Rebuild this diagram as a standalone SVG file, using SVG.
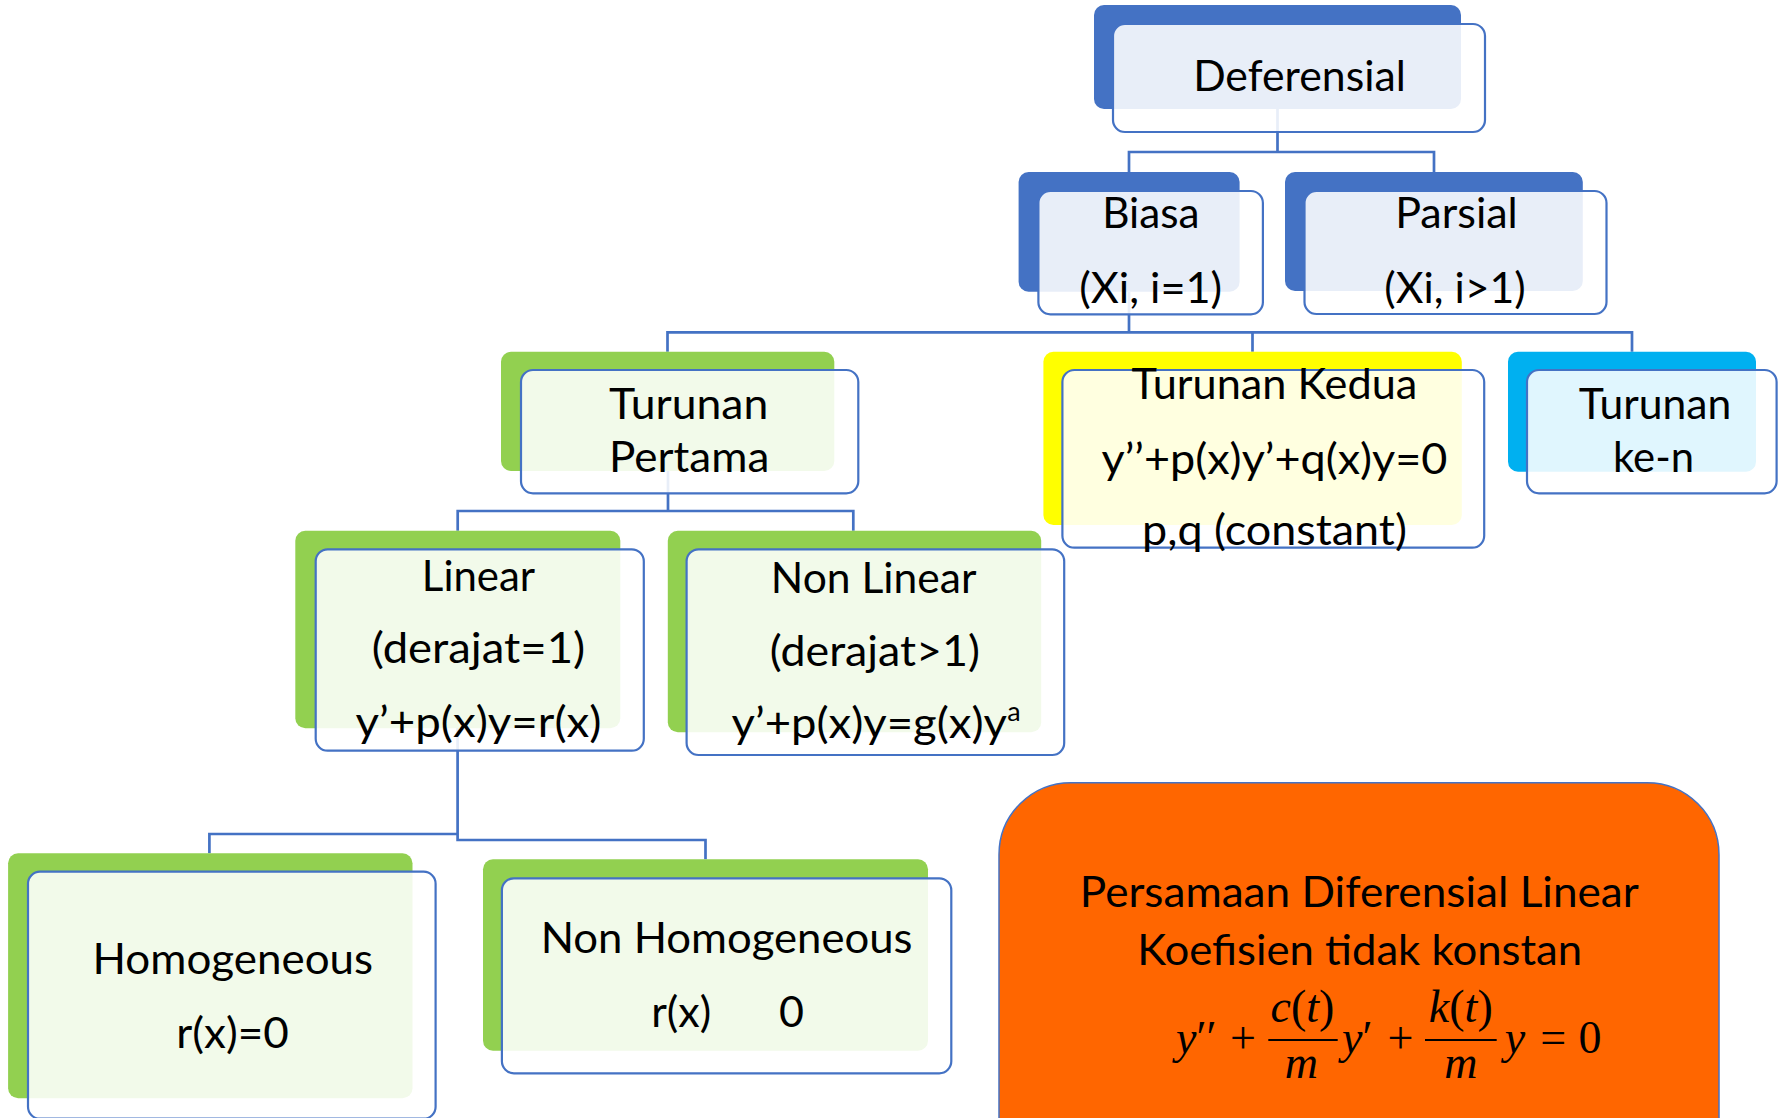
<svg xmlns="http://www.w3.org/2000/svg" width="1778" height="1118" viewBox="0 0 1778 1118">
<style>
.bg{fill:#ffffff}
.bb{fill:#4472C4}
.bg2{fill:#92D050}
.by{fill:#FFFF00}
.bc{fill:#00B0F0}
.front{fill:#ffffff;fill-opacity:0.88;stroke:#4472C4;stroke-width:2.2}
.conn{fill:none;stroke:#4472C4;stroke-width:2.7}
text{font-family:Lato,"Liberation Sans",sans-serif;fill:#000000;text-anchor:middle;font-size:43px}
.eq{font-family:"Liberation Serif",serif;font-size:46px}
.it{font-style:italic}
</style>
<rect class="bg" x="0" y="0" width="1778" height="1118"/>

<g id="connectors">
  <path class="conn" d="M1277.5,109 V152 M1129,172 V152 H1434 V172"/>
  <path class="conn" d="M1129,292 V332.3 M667.5,351.7 V332.3 H1632 V351.7 M1252.5,332.3 V351.7"/>
  <path class="conn" d="M668,471 V511 M457.7,530.7 V511 H853.3 V530.7"/>
  <path class="conn" d="M457.6,728 V840 H705.5 V859.3 M457.6,834 H209.4 V853.3"/>
</g>

<g id="node-deferensial">
  <rect class="bb" x="1094" y="5" width="367" height="104" rx="10"/>
  <rect class="front" x="1113" y="24" width="372" height="108" rx="12"/>
  <text x="1299.5" y="90.7" textLength="212.7" lengthAdjust="spacingAndGlyphs">Deferensial</text>
</g>

<g id="node-biasa">
  <rect class="bb" x="1018.6" y="172" width="221" height="119.7" rx="10"/>
  <rect class="front" x="1038.4" y="191" width="224.5" height="123.3" rx="12"/>
  <text x="1150.8" y="228" textLength="97.3" lengthAdjust="spacingAndGlyphs">Biasa</text>
  <text x="1150.7" y="303" textLength="142.8" lengthAdjust="spacingAndGlyphs">(Xi, i=1)</text>
</g>

<g id="node-parsial">
  <rect class="bb" x="1285" y="172" width="297.8" height="119" rx="10"/>
  <rect class="front" x="1304.5" y="191" width="302" height="123" rx="12"/>
  <text x="1456.5" y="228" textLength="122.6" lengthAdjust="spacingAndGlyphs">Parsial</text>
  <text x="1455" y="303" textLength="141.3" lengthAdjust="spacingAndGlyphs">(Xi, i&gt;1)</text>
</g>

<g id="node-turunan-pertama">
  <rect class="bg2" x="501" y="351.7" width="333.3" height="119.3" rx="10"/>
  <rect class="front" x="521" y="370" width="337.3" height="123.3" rx="12"/>
  <text x="688.7" y="419" textLength="159.3" lengthAdjust="spacingAndGlyphs">Turunan</text>
  <text x="689.2" y="472" textLength="160.3" lengthAdjust="spacingAndGlyphs">Pertama</text>
</g>

<g id="node-turunan-kedua">
  <rect class="by" x="1043.4" y="351.7" width="418.4" height="173.3" rx="10"/>
  <rect class="front" x="1062.4" y="370" width="421.8" height="177.7" rx="12"/>
  <text x="1274.5" y="399" textLength="285.8" lengthAdjust="spacingAndGlyphs">Turunan Kedua</text>
  <text x="1274.5" y="474" textLength="345.9" lengthAdjust="spacingAndGlyphs">y’’+p(x)y’+q(x)y=0</text>
  <text x="1274.5" y="545" textLength="264.8" lengthAdjust="spacingAndGlyphs">p,q (constant)</text>
</g>

<g id="node-turunan-ke-n">
  <rect class="bc" x="1508" y="351.7" width="248" height="120" rx="10"/>
  <rect class="front" x="1527" y="370" width="249.6" height="123.3" rx="12"/>
  <text x="1655" y="419" textLength="152.7" lengthAdjust="spacingAndGlyphs">Turunan</text>
  <text x="1653.5" y="472" textLength="81" lengthAdjust="spacingAndGlyphs">ke-n</text>
</g>

<g id="node-linear">
  <rect class="bg2" x="295.3" y="530.7" width="325" height="197.6" rx="10"/>
  <rect class="front" x="315.7" y="549.3" width="328.1" height="201.4" rx="12"/>
  <text x="478.5" y="590.7" textLength="113.3" lengthAdjust="spacingAndGlyphs">Linear</text>
  <text x="478.5" y="663.3" textLength="213.3" lengthAdjust="spacingAndGlyphs">(derajat=1)</text>
  <text x="478.5" y="736.7" textLength="245.9" lengthAdjust="spacingAndGlyphs">y’+p(x)y=r(x)</text>
</g>

<g id="node-non-linear">
  <rect class="bg2" x="667.8" y="530.7" width="373.4" height="201.6" rx="10"/>
  <rect class="front" x="686.6" y="549.3" width="377.6" height="205.7" rx="12"/>
  <text x="873.6" y="592.7" textLength="205.6" lengthAdjust="spacingAndGlyphs">Non Linear</text>
  <text x="874.9" y="666" textLength="210.2" lengthAdjust="spacingAndGlyphs">(derajat&gt;1)</text>
  <text x="869.3" y="738" textLength="275.5" lengthAdjust="spacingAndGlyphs">y’+p(x)y=g(x)y</text>
  <text x="1014" y="721" style="font-size:27px">a</text>
</g>

<g id="node-homogeneous">
  <rect class="bg2" x="8.1" y="853.3" width="404.4" height="245" rx="10"/>
  <rect class="front" x="28" y="871.7" width="407.6" height="247" rx="12"/>
  <text x="232.8" y="974" textLength="280.6" lengthAdjust="spacingAndGlyphs">Homogeneous</text>
  <text x="232.5" y="1048.3" textLength="112.5" lengthAdjust="spacingAndGlyphs">r(x)=0</text>
</g>

<g id="node-non-homogeneous">
  <rect class="bg2" x="483" y="859.3" width="445" height="191.4" rx="10"/>
  <rect class="front" x="501.9" y="878.3" width="449.4" height="195" rx="12"/>
  <text x="726.6" y="952.7" textLength="371.9" lengthAdjust="spacingAndGlyphs">Non Homogeneous</text>
  <text y="1026.7"><tspan x="681.2">r(x)</tspan><tspan x="791.5">0</tspan></text>
</g>

<g id="node-persamaan">
  <rect x="999" y="782.7" width="720" height="420" rx="72" fill="#FF6600" stroke="#4472C4" stroke-width="1.5"/>
  <text x="1359.3" y="906.7" textLength="559" lengthAdjust="spacingAndGlyphs">Persamaan Diferensial Linear</text>
  <text x="1359.7" y="965" textLength="445" lengthAdjust="spacingAndGlyphs">Koefisien tidak konstan</text>
  <g class="eq">
    <text class="eq" x="1176" y="1053" style="text-anchor:start"><tspan class="it">y</tspan>′′</text>
    <text class="eq" x="1243" y="1053">+</text>
    <text class="eq" x="1302.5" y="1021.7"><tspan class="it">c</tspan>(<tspan class="it">t</tspan>)</text>
    <line x1="1268.3" y1="1040" x2="1337.7" y2="1040" stroke="#000" stroke-width="2"/>
    <text class="eq it" x="1301.3" y="1078">m</text>
    <text class="eq" x="1342" y="1053" style="text-anchor:start"><tspan class="it">y</tspan>′</text>
    <text class="eq" x="1400.5" y="1053">+</text>
    <text class="eq" x="1460.8" y="1021.7"><tspan class="it">k</tspan>(<tspan class="it">t</tspan>)</text>
    <line x1="1425" y1="1040" x2="1496.7" y2="1040" stroke="#000" stroke-width="2"/>
    <text class="eq it" x="1460.8" y="1078">m</text>
    <text class="eq it" x="1515" y="1053">y</text>
    <text class="eq" x="1553.3" y="1053">=</text>
    <text class="eq" x="1590" y="1053">0</text>
  </g>
</g>
</svg>
